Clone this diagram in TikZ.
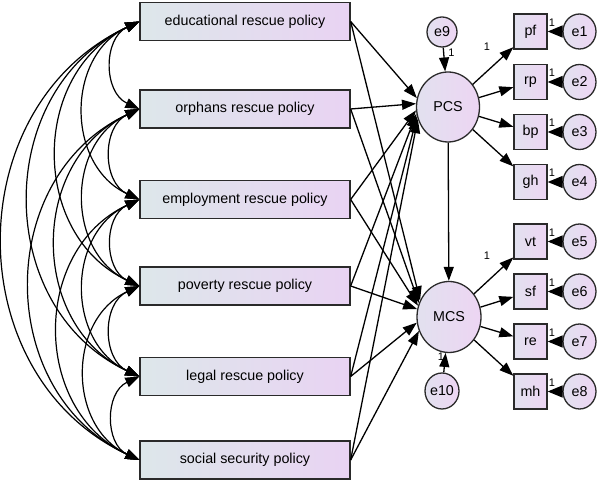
\documentclass[tikz,border=0pt]{standalone}
\usepackage{fontspec}
\setmainfont{Liberation Sans}
\usetikzlibrary{arrows.meta,shapes.geometric}
\definecolor{boxL}{HTML}{DDE7EA}
\definecolor{boxR}{HTML}{E9D3F3}
\definecolor{cirL}{HTML}{E2E1EF}
\definecolor{cirR}{HTML}{EDD5F3}
\definecolor{edge}{HTML}{2A2A2A}
\tikzset{
  pol/.style={draw=edge, line width=1.3pt, left color=boxL, right color=boxR,
    minimum width=210pt, minimum height=38pt, inner sep=0pt,
    font=\fontsize{14.3}{16}\selectfont},
  obs/.style={draw=edge, line width=1.3pt, left color=cirL, right color=cirR,
    minimum width=33pt, minimum height=35pt, inner sep=0pt,
    font=\fontsize{14.3}{16}\selectfont},
  lat/.style={ellipse, draw=edge, line width=1.3pt, left color=cirL, right color=cirR,
    minimum width=63pt, minimum height=70pt, inner sep=0pt,
    font=\fontsize{14.3}{16}\selectfont},
  err/.style={ellipse, draw=edge, line width=1.3pt, left color=cirL, right color=cirR,
    minimum width=33pt, minimum height=35pt, inner sep=0pt,
    font=\fontsize{14.3}{16}\selectfont},
  one/.style={inner sep=0pt, font=\fontsize{11}{12}\selectfont},
  patharr/.style={line width=1.3pt, -{Triangle[length=14pt,width=10pt]}},
  errarr/.style={line width=1.3pt, -{Triangle[length=15pt,width=12pt]}},
  cov/.style={line width=1.2pt, {Triangle[length=14pt,width=10pt]}-{Triangle[length=14pt,width=10pt]}, bend right=65, looseness=1.17}
}
\begin{document}
\begin{tikzpicture}[x=1pt,y=1pt]
\useasboundingbox (0,0) rectangle (600,481);
% policies
\node[pol] (edu) at (245,459.5) {educational rescue policy};
\node[pol] (orp) at (245,372) {orphans rescue policy};
\node[pol] (emp) at (245,281.5) {employment rescue policy};
\node[pol] (pov) at (245,195) {poverty rescue policy};
\node[pol] (leg) at (245,104.5) {legal rescue policy};
\node[pol] (soc) at (245,21) {social security policy};
% latents
\node[lat] (PCS) at (448,374) {PCS};
\node[lat, minimum width=64pt, minimum height=71pt] (MCS) at (449,164) {MCS};
\node[err, minimum width=30pt, minimum height=30pt] (e9) at (442,449) {e9};
\node[err, minimum width=34pt, minimum height=36pt] (e10) at (442,90) {e10};
% observed
\node[obs] (pf) at (530.5,449.5) {pf};
\node[obs] (rp) at (530.5,399) {rp};
\node[obs] (bp) at (530.5,349) {bp};
\node[obs] (gh) at (530.5,299) {gh};
\node[obs] (vt) at (530.5,239.5) {vt};
\node[obs] (sf) at (530.5,189.5) {sf};
\node[obs] (re) at (530.5,139.5) {re};
\node[obs] (mh) at (530.5,89.5) {mh};
\node[err] (e1) at (579.5,449.5) {e1};
\node[err] (e2) at (579.5,399) {e2};
\node[err] (e3) at (579.5,349) {e3};
\node[err] (e4) at (579.5,299) {e4};
\node[err] (e5) at (579.5,239.5) {e5};
\node[err] (e6) at (579.5,189.5) {e6};
\node[err] (e7) at (579.5,139.5) {e7};
\node[err] (e8) at (579.5,89.5) {e8};
% error arrows
\foreach \e/\o in {e1/pf,e2/rp,e3/bp,e4/gh,e5/vt,e6/sf,e7/re,e8/mh}{
  \draw[errarr] (\e) -- (\o);
}
\draw[patharr] (e9) -- (PCS);
\draw[patharr] (e10) -- (MCS);
% latent to observed
\foreach \o in {pf,rp,bp,gh}{ \draw[patharr] (PCS) -- (\o); }
\foreach \o in {vt,sf,re,mh}{ \draw[patharr] (MCS) -- (\o); }
\draw[patharr] (PCS) -- (MCS);
% policy to latent
\foreach \p/\a/\b in {edu/164/150, orp/174/155, emp/186/160, pov/192/166, leg/197/190, soc/202/205}{
  \draw[patharr] (\p.east) -- (PCS.\a);
  \draw[patharr] (\p.east) -- (MCS.\b);
}
% covariances
\foreach \p/\q in {edu/orp,edu/emp,edu/pov,edu/leg,edu/soc,orp/emp,orp/pov,orp/leg,orp/soc,emp/pov,emp/leg,emp/soc,pov/leg,pov/soc,leg/soc}{
  \draw[cov] (\p.west) to (\q.west);
}
% labels "1"
\foreach \n/\y in {1/449.5,2/399,3/349,4/299,5/239.5,6/189.5,7/139.5,8/89.5}{
  \node[one] (l\n) at (552,\y+9) {1};
}
\node[one] (lpf) at (487,434) {1};
\node[one] (le9) at (451.5,428) {1};
\node[one] (lvt) at (487,225) {1};
\node[one] (le10) at (441,124) {1};
\end{tikzpicture}
\end{document}
